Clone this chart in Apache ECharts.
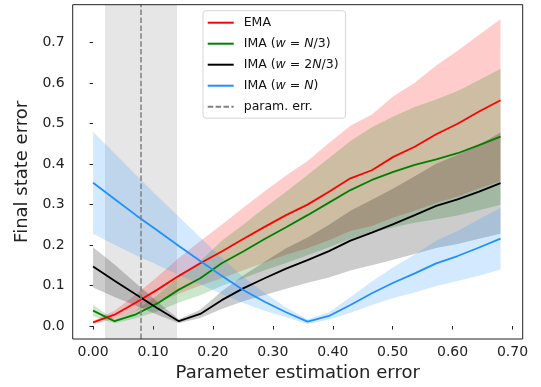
<!DOCTYPE html>
<html><head><meta charset="utf-8">
<script src="https://cdn.jsdelivr.net/npm/echarts@6/dist/echarts.min.js"></script>
<style>html,body{margin:0;padding:0;background:#fff}#c{width:541px;height:387px}</style>
</head><body><div id="c"></div>
<script>
const xValues = [0.0000,0.0358,0.0716,0.1074,0.1432,0.1789,0.2147,0.2505,0.2863,0.3221,0.3579,0.3937,0.4295,0.4653,0.5011,0.5368,0.5726,0.6084,0.6442,0.6800];

const emaMean  = [0.009,0.028,0.058,0.090,0.124,0.155,0.184,0.215,0.245,0.274,0.300,0.332,0.365,0.385,0.418,0.443,0.474,0.500,0.530,0.558];
const emaLow   = [0.005,0.018,0.038,0.058,0.080,0.100,0.118,0.138,0.157,0.176,0.192,0.212,0.235,0.247,0.268,0.285,0.304,0.320,0.340,0.358];
const emaHigh  = [0.013,0.038,0.078,0.122,0.168,0.210,0.250,0.292,0.333,0.372,0.408,0.452,0.495,0.523,0.568,0.601,0.644,0.680,0.720,0.758];

const ima1Mean = [0.038,0.012,0.029,0.056,0.090,0.118,0.155,0.184,0.215,0.244,0.274,0.305,0.336,0.361,0.381,0.398,0.412,0.427,0.447,0.468];
const ima1Low  = [0.024,0.007,0.019,0.036,0.058,0.076,0.099,0.118,0.138,0.156,0.175,0.195,0.215,0.231,0.244,0.255,0.264,0.273,0.286,0.300];
const ima1High = [0.052,0.017,0.039,0.076,0.122,0.160,0.211,0.250,0.292,0.332,0.373,0.415,0.457,0.491,0.518,0.541,0.560,0.581,0.608,0.636];

const ima2Mean = [0.147,0.112,0.078,0.044,0.012,0.030,0.064,0.093,0.118,0.142,0.163,0.185,0.211,0.231,0.252,0.274,0.297,0.313,0.332,0.353];
const ima2Low  = [0.095,0.072,0.050,0.028,0.007,0.020,0.042,0.061,0.077,0.092,0.107,0.120,0.137,0.150,0.164,0.178,0.193,0.203,0.216,0.228];
const ima2High = [0.195,0.152,0.106,0.060,0.017,0.040,0.086,0.125,0.159,0.192,0.219,0.250,0.285,0.312,0.340,0.370,0.401,0.423,0.448,0.478];

const ima3Mean = [0.354,0.314,0.274,0.236,0.198,0.161,0.124,0.089,0.060,0.034,0.011,0.025,0.052,0.081,0.107,0.130,0.155,0.173,0.194,0.216];
const ima3Low  = [0.228,0.201,0.175,0.151,0.126,0.103,0.079,0.057,0.038,0.022,0.005,0.016,0.033,0.052,0.069,0.083,0.099,0.111,0.124,0.140];
const ima3High = [0.480,0.427,0.373,0.321,0.270,0.219,0.169,0.121,0.082,0.046,0.017,0.034,0.071,0.110,0.145,0.177,0.211,0.235,0.264,0.292];

const paramErr = 0.08;
const paramErrRange = [0.02, 0.14];

const xTicks = [0.0,0.1,0.2,0.3,0.4,0.5,0.6,0.7];
const yTicks = [0.0,0.1,0.2,0.3,0.4,0.5,0.6,0.7];

const names = ['EMA','IMA (w = N/3)','IMA (w = 2N/3)','IMA (w = N)','param. err.'];
const richNames = {
  'EMA': 'EMA',
  'IMA (w = N/3)': '{n|IMA (}{i|w}{n| = }{i|N}{n|/3)}',
  'IMA (w = 2N/3)': '{n|IMA (}{i|w}{n| = 2}{i|N}{n|/3)}',
  'IMA (w = N)': '{n|IMA (}{i|w}{n| = }{i|N}{n|)}',
  'param. err.': 'param. err.'
};

const FONT = 'DejaVu Sans';
const SOLID_ICON = 'path://M0,0L26,0L26,2L0,2Z';
const DASH_ICON = 'path://M0,0L5.5,0L5.5,2L0,2ZM7.9,0L13.4,0L13.4,2L7.9,2ZM15.8,0L21.3,0L21.3,2L15.8,2ZM23.7,0L26,0L26,2L23.7,2Z';

function bandSeries(lo, hi, color) {
  return {
    type: 'custom', silent: true, z: 2,
    data: xValues.map((x, i) => [x, lo[i], hi[i]]),
    encode: { x: 0, y: [1, 2] },
    renderItem: function (params, api) {
      if (params.dataIndex !== 0) return;
      const top = [], bot = [];
      for (let i = 0; i < xValues.length; i++) {
        top.push(api.coord([xValues[i], hi[i]]));
        bot.push(api.coord([xValues[i], lo[i]]));
      }
      return { type: 'polygon', shape: { points: top.concat(bot.reverse()) }, style: { fill: color } };
    }
  };
}
function lineSeries(name, mean, color) {
  return {
    type: 'line', name: name, z: 4, symbol: 'none', animation: false,
    data: xValues.map((x, i) => [x, mean[i]]),
    color: color,
    lineStyle: { color: color, width: 1.8 }
  };
}

const chart = echarts.init(document.getElementById('c'), null, { renderer: 'canvas' });
chart.setOption({
  animation: false,
  backgroundColor: '#fff',
  grid: { left: 72.7, top: 4.7, width: 450, height: 334.3, show: true, borderColor: '#222', borderWidth: 1, backgroundColor: 'transparent', z: 10 },
  xAxis: {
    type: 'value', min: -0.034, max: 0.717,
    axisLine: { show: false },
    splitLine: { show: false },
    axisTick: { show: true, length: 3.5, lineStyle: { color: '#222' }, customValues: xTicks },
    axisLabel: { customValues: xTicks, formatter: v => v.toFixed(2), fontFamily: FONT, fontSize: 14, color: '#222', margin: 6 },
    name: 'Parameter estimation error', nameLocation: 'middle', nameGap: 22,
    nameTextStyle: { fontFamily: FONT, fontSize: 18, color: '#222' }
  },
  yAxis: {
    type: 'value', min: -0.032, max: 0.794,
    axisLine: { show: false },
    splitLine: { show: false },
    axisTick: { show: true, length: 3.5, lineStyle: { color: '#222' }, customValues: yTicks },
    axisLabel: { customValues: yTicks, formatter: v => v.toFixed(1), fontFamily: FONT, fontSize: 14, color: '#222', margin: 8 },
    name: 'Final state error', nameLocation: 'middle', nameGap: 37,
    nameTextStyle: { fontFamily: FONT, fontSize: 18, color: '#222' }
  },
  legend: {
    data: [
      { name: names[0], icon: SOLID_ICON },
      { name: names[1], icon: SOLID_ICON },
      { name: names[2], icon: SOLID_ICON },
      { name: names[3], icon: SOLID_ICON },
      { name: names[4], icon: DASH_ICON }
    ],
    orient: 'vertical', left: 203, top: 10.7,
    itemWidth: 26, itemHeight: 14, itemGap: 8,
    padding: [5.5, 7, 5, 4.7],
    backgroundColor: 'rgba(255,255,255,0.8)', borderColor: '#d5d5d5', borderWidth: 1, borderRadius: 3,
    formatter: n => richNames[n],
    textStyle: { fontFamily: FONT, fontSize: 12.5, color: '#111', padding: [0, 0, 0, 5],
      rich: { n: { fontFamily: FONT, fontSize: 12.5, color: '#111' }, i: { fontFamily: FONT, fontSize: 12.5, fontStyle: 'italic', color: '#111' } } },
    z: 20
  },
  series: [
    {
      type: 'line', data: [], silent: true, z: 1,
      markArea: { silent: true, itemStyle: { color: 'rgba(128,128,128,0.2)' }, data: [[{ xAxis: paramErrRange[0] }, { xAxis: paramErrRange[1] }]] }
    },
    bandSeries(emaLow, emaHigh, 'rgba(255,0,0,0.2)'),
    bandSeries(ima1Low, ima1High, 'rgba(0,128,0,0.2)'),
    bandSeries(ima2Low, ima2High, 'rgba(0,0,0,0.2)'),
    bandSeries(ima3Low, ima3High, 'rgba(30,144,255,0.2)'),
    lineSeries('EMA', emaMean, '#ff0000'),
    lineSeries('IMA (w = N/3)', ima1Mean, '#008000'),
    lineSeries('IMA (w = 2N/3)', ima2Mean, '#000000'),
    lineSeries('IMA (w = N)', ima3Mean, '#1e90ff'),
    {
      type: 'line', name: 'param. err.', data: [], symbol: 'none', z: 6, color: '#808080',
      lineStyle: { color: '#808080', type: [5.5, 2.4], width: 1.5 },
      markLine: { silent: true, symbol: ['none', 'none'], label: { show: false },
        lineStyle: { color: '#808080', type: [5.5, 2.4], width: 1.5 },
        data: [{ xAxis: paramErr }] }
    }
  ]
});
</script></body></html>
